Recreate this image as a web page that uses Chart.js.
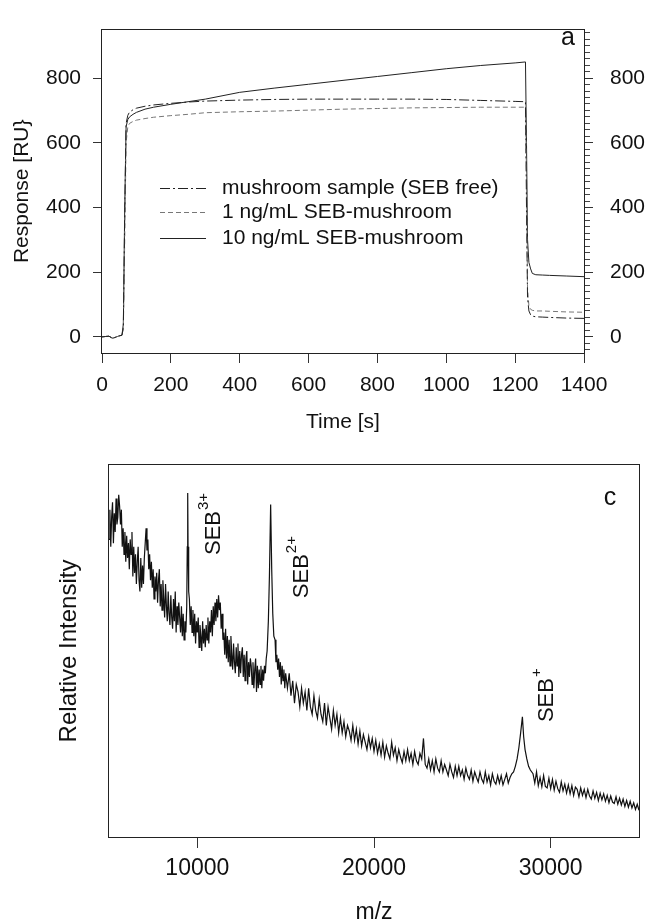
<!DOCTYPE html>
<html><head><meta charset="utf-8">
<script src="https://cdn.jsdelivr.net/npm/chart.js@4.4.1/dist/chart.umd.min.js"></script>
<style>
html,body{margin:0;padding:0;background:#fff;width:648px;height:922px;overflow:hidden}
#wa{position:absolute;left:0;top:0;width:648px;height:440px}
#wc{position:absolute;left:0;top:440px;width:648px;height:482px}
canvas{display:block}
</style></head><body>
<div id="wa"><canvas id="ca" width="648" height="440"></canvas></div>
<div id="wc"><canvas id="cc" width="648" height="482"></canvas></div>
<script>
// ---------- Panel a : SPR sensorgram ----------
const timeS = [0,10,20,30,35,40,50,58,62,66,70,75,80,90,100,125,150,200,250,300,400,500,600,700,800,900,1000,1100,1200,1230,1233,1236,1240,1245,1250,1260,1280,1300,1350,1400];
const respFree = [0,1,2,-4,-3,-1,3,5,30,380,660,685,695,702,707,713,717,722,726,729,732,734,735,735,735,735,734,731,728,727,400,120,80,68,64,62,61,60,58,57];
const resp1ng  = [0,1,2,-4,-3,-1,3,5,25,300,600,650,660,666,670,675,679,684,688,693,696,698,701,704,706,708,709,710,710,710,500,150,95,85,82,80,80,79,77,76];
const resp10ng = [0,1,2,-4,-3,-1,3,5,40,400,650,672,680,688,694,704,710,719,727,735,756,769,781,793,805,817,829,839,847,850,600,300,230,210,196,192,191,190,188,186];
const seriesNames = ['mushroom sample (SEB free)','1 ng/mL SEB-mushroom','10 ng/mL SEB-mushroom'];
const timeTicks = [0,200,400,600,800,1000,1200,1400];
const respTicks = [0,200,400,600,800];
const respMinorTicks = [-40,-20,0,20,40,60,80,100,120,140,160,180,200,220,240,260,280,300,320,340,360,380,400,420,440,460,480,500,520,540,560,580,600,620,640,660,680,700,720,740,760,780,800,820,840,860,880,900,920,940];

// ---------- Panel c : mass spectrum ----------
const mz = [
5000,5050,5100,5150,5200,5250,5300,5350,5400,5450,
5500,5550,5600,5650,5700,5750,5800,5850,5900,5950,
6000,6050,6100,6150,6200,6250,6300,6350,6400,6450,
6500,6550,6600,6650,6700,6750,6800,6850,6900,6950,
7000,7050,7100,7150,7200,7250,7300,7350,7400,7450,
7500,7550,7600,7650,7700,7750,7800,7850,7900,7950,
8000,8050,8100,8150,8200,8250,8300,8350,8400,8450,
8500,8550,8600,8650,8700,8750,8800,8850,8900,8950,
9000,9050,9100,9150,9200,9250,9300,9350,
9400,9430,9455,9475,9510,
9550,9600,9650,9700,9750,9800,9850,9900,9950,10000,
10050,10100,10150,10200,10250,10300,10350,10400,10450,10500,
10550,10600,10650,10700,10750,10800,10850,10900,10950,11000,
11050,11100,11150,11200,11250,11300,11350,11400,11450,11500,
11550,11600,11650,11700,11750,11800,11850,11900,11950,12000,
12050,12100,12150,12200,12250,12300,12350,12400,12450,12500,
12550,12600,12650,12700,12750,12800,12850,12900,12950,13000,
13050,13100,13150,13200,13250,13300,13350,13400,13450,13500,
13550,13600,13650,13700,13750,13800,13850,13900,
13950,14020,14080,14150,14210,14270,14330,
14400,14450,14500,14550,14600,14650,14700,14750,14800,14850,14900,14950,15000,
15100,15200,15300,15400,15500,15600,15700,15800,15900,16000,
16100,16200,16300,16400,16500,16600,16700,16800,16900,17000,
17100,17200,17300,17400,17500,17600,17700,17800,17900,18000,
18100,18200,18300,18400,18500,18600,18700,18800,18900,19000,
19100,19200,19300,19400,19500,19600,19700,19800,19900,20000,
20100,20200,20300,20400,20500,20600,20700,20800,20900,21000,
21100,21200,21300,21400,21500,21600,21700,21800,21900,22000,
22100,22200,22300,22400,22500,22600,22700,22800,22900,23000,
23100,23200,23300,23400,23500,23600,23700,23800,23900,24000,
24100,24200,24300,24400,24500,24600,24700,24800,24900,25000,
25100,25200,25300,25400,25500,25600,25700,25800,25900,26000,
26100,26200,26300,26400,26500,26600,26700,26800,26900,27000,
27100,27200,27300,27400,27500,27600,27700,27800,
27900,28000,28100,28200,28300,28400,28470,28550,28650,28750,28850,
29000,29100,29200,29300,29400,29500,29600,29700,29800,29900,
30000,30100,30200,30300,30400,30500,30600,30700,30800,30900,
31000,31100,31200,31300,31400,31500,31600,31700,31800,31900,
32000,32100,32200,32300,32400,32500,32600,32700,32800,32900,
33000,33100,33200,33300,33400,33500,33600,33700,33800,33900,
34000,34100,34200,34300,34400,34500,34600,34700,34800,34900,
35000];
const intensity = [
80,88,78,86,90,79,87,82,91,84,
86,92,89,84,88,78,83,76,82,74,
81,75,79,72,80,76,82,70,78,71,
76,68,74,78,69,66,75,67,73,68,
75,79,83,77,80,72,76,69,74,67,
72,64,70,66,71,63,69,72,62,68,
61,69,64,59,68,62,58,66,60,57,
65,59,56,64,58,66,55,62,57,63,
59,55,62,54,60,53,58,55,
62,78,92.5,78,66,
64,57,62,55,61,54,60,52,58,55,
59,51,57,54,50,58,52,56,51,57,
53,59,52,58,55,61,54,62,57,63,
58,64,59,65,61,63,56,60,53,55,
49,56,48,54,47,53,46,54,49,45,
52,47,44,51,46,52,43,50,44,49,
51,43,49,42,48,50,41,47,43,48,
46,41,47,40,45,48,39,46,40,45,
41,46,40,45,42,46,44,48,
50,58,70,89.4,72,60,54,
53,47,49,45,48,43,47,41,46,42,45,40,44,
40,44,38,42,36,41,39,35,40,36,
39,34,40,35,33,38,34,32,37,33,
31,36,30,35,32,29,34,30,33,28,
32,28,31,27,30,28.5,26,30,26,29,
25,28.5,24.5,27.5,25.5,23.5,27,24,26.5,23,
26,22.5,25,22,25.5,21.5,24.5,22.5,21,25.5,
22,24,20.5,23.5,21.5,20,23,20.5,23.5,20.5,
22.5,19.5,23,20.5,19.5,22.5,21,26.5,19.5,18.5,
21,18,20.5,17.5,21,18.5,17.5,20.5,17.5,19.5,
18,16.5,19.5,17.5,16,19,16.5,19,16.5,18,
15.5,18.5,16.5,15.5,18,15,17.5,16,14.8,17.5,
15.5,14.5,17.5,14.8,16.5,14,17,15,14.2,16.5,
14.5,16.5,14,15.5,17,14.5,16,17,
17.5,19,21,24,28,32.3,27,23.5,21,19,18,
17,14.5,17.5,13.8,16,13.5,16.5,13.6,13.2,15.8,
13,15.5,12.6,15,13,12,14.8,12.4,14.2,11.8,
14,11.6,13.8,11.2,13.4,12.8,10.8,13.2,11.2,12.8,
10.6,12.8,11,10.2,12.4,10.4,12,9.8,11.8,10,
11.6,9.6,11.2,9.2,11,9.4,9,10.8,8.8,10.4,
8.6,10.2,8.2,9.8,8,9.6,7.8,9.2,7.4,8.8,
7.2];
const mzTicks = [10000,20000,30000];
const peakNames = ['SEB','SEB','SEB'];
const peakCharges = ['3+','2+','+'];

const FF = "'Liberation Sans', Arial, Helvetica, sans-serif";
const INK = '#111';

const framePlugin = {
  id: 'frame',
  afterDatasetsDraw(chart) {
    const {ctx, chartArea: a} = chart;
    ctx.save();
    ctx.strokeStyle = '#222';
    ctx.lineWidth = 1;
    ctx.strokeRect(Math.round(a.left) - 0.5, Math.round(a.top) - 0.5, Math.round(a.right - a.left) + 1, Math.round(a.bottom - a.top) + 1);
    ctx.restore();
  }
};

const legendPlugin = {
  id: 'customLegend',
  afterDraw(chart) {
    const {ctx} = chart;
    const rows = [188, 212, 238];
    ctx.save();
    chart.data.datasets.forEach((ds, i) => {
      const y = rows[i] + 0.5;
      ctx.strokeStyle = ds.borderColor;
      ctx.lineWidth = 1;
      ctx.setLineDash(ds.borderDash || []);
      ctx.beginPath(); ctx.moveTo(160, y); ctx.lineTo(206, y); ctx.stroke();
      ctx.setLineDash([]);
      ctx.fillStyle = INK;
      ctx.font = '21px ' + FF;
      ctx.textAlign = 'left'; ctx.textBaseline = 'middle';
      ctx.fillText(ds.label, 222, rows[i]);
    });
    ctx.font = '25px ' + FF;
    ctx.textAlign = 'center';
    ctx.fillText('a', 568, 38);
    ctx.restore();
  }
};

function mkSeries(arr) { return timeS.map((t, i) => ({x: t, y: arr[i]})); }
const plainLabel = v => String(v);

new Chart(document.getElementById('ca'), {
  type: 'line',
  data: {
    datasets: [
      {label: seriesNames[0], data: mkSeries(respFree), borderColor: '#222', borderWidth: 1, borderDash: [10,3,2,3], pointRadius: 0, tension: 0},
      {label: seriesNames[1], data: mkSeries(resp1ng), borderColor: '#777', borderWidth: 1, borderDash: [5,3], pointRadius: 0, tension: 0},
      {label: seriesNames[2], data: mkSeries(resp10ng), borderColor: '#222', borderWidth: 1, pointRadius: 0, tension: 0}
    ]
  },
  options: {
    responsive: false, animation: false, devicePixelRatio: 1,
    layout: {padding: {top: 14, left: 0, right: 0, bottom: 0}},
    plugins: {legend: {display: false}, tooltip: {enabled: false}},
    scales: {
      x: {
        type: 'linear', position: 'bottom', min: 0, max: 1400,
        afterBuildTicks: s => { s.ticks = timeTicks.map(v => ({value: v})); },
        afterFit: s => { s.height = 87; },
        grid: {drawOnChartArea: false, drawTicks: true, tickLength: 10, color: '#333', lineWidth: 1},
        border: {display: false},
        ticks: {color: INK, font: {family: FF, size: 21}, padding: 10, maxRotation: 0, autoSkip: false, callback: plainLabel},
        title: {display: true, text: 'Time [s]', color: INK, font: {family: FF, size: 21}, padding: {top: 0, bottom: 5}}
      },
      y: {
        type: 'linear', position: 'left', min: -50, max: 950,
        afterBuildTicks: s => { s.ticks = respTicks.map(v => ({value: v})); },
        afterFit: s => { s.width = 102; },
        grid: {drawOnChartArea: false, drawTicks: true, tickLength: 9, color: '#333', lineWidth: 1},
        border: {display: false},
        ticks: {color: INK, font: {family: FF, size: 21}, padding: 12, callback: plainLabel},
        title: {display: true, text: 'Response [RU}', color: INK, font: {family: FF, size: 21}, padding: {top: 10, bottom: 0}}
      },
      yMinor: {
        type: 'linear', position: 'right', min: -50, max: 950,
        afterBuildTicks: s => { s.ticks = respMinorTicks.map(v => ({value: v})); },
        afterFit: s => { s.width = 0; },
        grid: {drawOnChartArea: false, drawTicks: true, tickLength: 6, color: '#444', lineWidth: 1},
        border: {display: false},
        ticks: {display: false}
      },
      yr: {
        type: 'linear', position: 'right', min: -50, max: 950,
        afterBuildTicks: s => { s.ticks = respTicks.map(v => ({value: v})); },
        afterFit: s => { s.width = 64; },
        grid: {drawOnChartArea: false, drawTicks: true, tickLength: 9, color: '#333', lineWidth: 1},
        border: {display: false},
        ticks: {color: INK, font: {family: FF, size: 21}, padding: 17, callback: plainLabel}
      }
    }
  },
  plugins: [framePlugin, legendPlugin]
});

// ---------- chart c ----------
const peakLabelPlugin = {
  id: 'peakLabels',
  afterDraw(chart) {
    const {ctx} = chart;
    const xs = chart.scales.x, ys = chart.scales.y;
    const anchors = chart.options.plugins.peakLabels.anchors;
    ctx.save();
    ctx.fillStyle = INK;
    anchors.forEach((p, i) => {
      const px = xs.getPixelForValue(p[0]);
      const py = ys.getPixelForValue(p[1]);
      ctx.save();
      ctx.translate(px, py);
      ctx.rotate(-Math.PI / 2);
      ctx.font = '22px ' + FF;
      ctx.textAlign = 'left'; ctx.textBaseline = 'middle';
      ctx.fillText(peakNames[i], 0, 0);
      const w = ctx.measureText(peakNames[i]).width;
      ctx.font = '15px ' + FF;
      ctx.fillText(peakCharges[i], w + 1, -10);
      ctx.restore();
    });
    ctx.font = '25px ' + FF;
    ctx.textAlign = 'center'; ctx.textBaseline = 'middle';
    ctx.fillText('c', 610, 58);
    ctx.restore();
  }
};

new Chart(document.getElementById('cc'), {
  type: 'line',
  data: {
    datasets: [{label: 'spectrum', data: mz.map((m, i) => ({x: m, y: intensity[i]})), borderColor: '#111', borderWidth: 1.2, pointRadius: 0, tension: 0}]
  },
  options: {
    responsive: false, animation: false, devicePixelRatio: 1,
    layout: {padding: {top: 25, left: 0, right: 9, bottom: 0}},
    plugins: {legend: {display: false}, tooltip: {enabled: false},
      peakLabels: {anchors: [[10943, 75.8], [15925, 64.2], [29764, 30.9]]}},
    scales: {
      x: {
        type: 'linear', position: 'bottom', min: 5000, max: 35000,
        afterBuildTicks: s => { s.ticks = mzTicks.map(v => ({value: v})); },
        afterFit: s => { s.height = 85; },
        grid: {drawOnChartArea: false, drawTicks: true, tickLength: 11, color: '#333', lineWidth: 1},
        border: {display: false},
        ticks: {color: INK, font: {family: FF, size: 23}, padding: 7, maxRotation: 0, autoSkip: false, callback: plainLabel},
        title: {display: true, text: 'm/z', color: INK, font: {family: FF, size: 23, lineHeight: 0.8}, padding: {top: 0, bottom: 0}}
      },
      y: {
        type: 'linear', position: 'left', min: 0, max: 100,
        afterFit: s => { s.width = 109; },
        grid: {display: false},
        border: {display: false},
        ticks: {display: false},
        title: {display: true, text: 'Relative Intensity', color: INK, font: {family: FF, size: 24}, padding: {top: 55, bottom: 0}}
      }
    }
  },
  plugins: [framePlugin, peakLabelPlugin]
});
</script>
</body></html>
